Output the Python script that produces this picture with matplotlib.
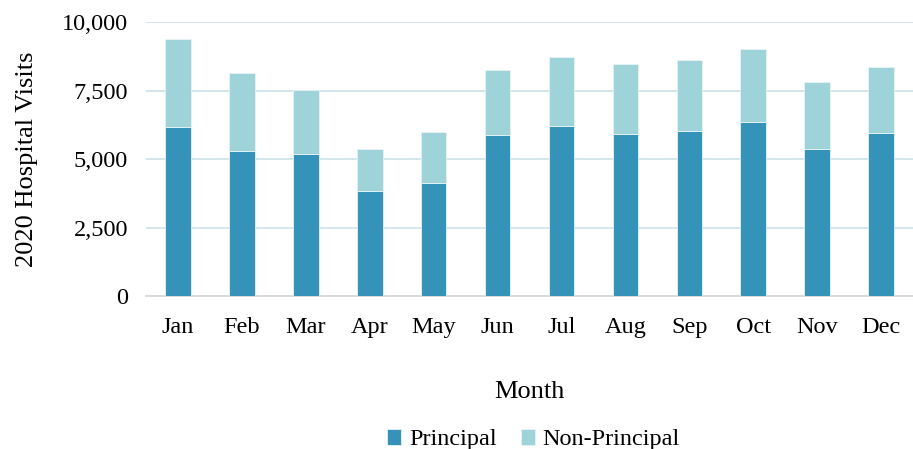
import numpy as np
import matplotlib.pyplot as plt
from matplotlib.ticker import FuncFormatter

plt.rcParams['font.family'] = ['Liberation Serif', 'DejaVu Serif']

months = ['Jan', 'Feb', 'Mar', 'Apr', 'May', 'Jun',
          'Jul', 'Aug', 'Sep', 'Oct', 'Nov', 'Dec']
principal = [6200, 5320, 5195, 3830, 4120, 5880,
             6220, 5915, 6035, 6380, 5380, 5950]
total = [9390, 8170, 7550, 5390, 5990, 8280,
         8740, 8475, 8620, 9025, 7840, 8375]
non_principal = [t - p for t, p in zip(total, principal)]

c_prin = '#3593b9'
c_non = '#9ed3d9'

fig = plt.figure(figsize=(9.13, 4.49), dpi=100)
ax = fig.add_axes([0.16, 0.34, 0.84, 0.61])

x = np.arange(len(months))
ax.bar(x, principal, width=0.4, color=c_prin, edgecolor='#e8f3f6',
       linewidth=0.6, label='Principal', zorder=3)
ax.bar(x, non_principal, width=0.4, bottom=principal, color=c_non,
       edgecolor='#e8f3f6', linewidth=0.6, label='Non-Principal', zorder=3)

ax.set_xlim(-0.5, 11.5)
ax.set_ylim(0, 10000)
ax.set_yticks([0, 2500, 5000, 7500, 10000])
ax.yaxis.set_major_formatter(FuncFormatter(lambda v, p: f'{int(v):,}'))
ax.grid(axis='y', color='#cfe4ec', linewidth=1.3, zorder=0)
for s in ['top', 'right', 'left']:
    ax.spines[s].set_visible(False)
ax.spines['bottom'].set_color('#d9d9d9')
ax.spines['bottom'].set_linewidth(1.3)
ax.tick_params(length=0, labelsize=17.5, colors='black')
ax.tick_params(axis='y', pad=13)
ax.tick_params(axis='x', pad=15)
ax.set_xticks(x)
ax.set_xticklabels(months)

ax.set_ylabel('2020 Hospital Visits', fontsize=19, labelpad=17)
ax.set_xlabel('Month', fontsize=19, labelpad=31)

ax.legend(loc='upper center', bbox_to_anchor=(0.505, -0.405), ncol=2,
          frameon=False, fontsize=17.5, handlelength=0.6, handleheight=0.6,
          handletextpad=0.3, columnspacing=1.0)

fig.savefig('out.png', dpi=100)
